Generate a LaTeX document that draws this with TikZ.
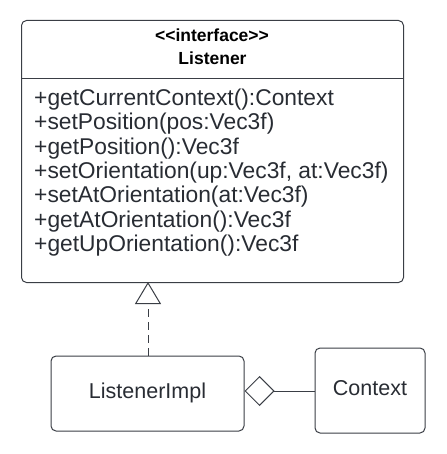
\documentclass[tikz,border=0pt]{standalone}
\usepackage{fontspec}
\setmainfont{Liberation Sans}
\usetikzlibrary{arrows.meta,shapes.geometric}
\definecolor{txt}{HTML}{282C33}
\definecolor{ln}{HTML}{3A3E45}
\begin{document}
\begin{tikzpicture}[x=1pt,y=-1pt,
  box/.style={draw=ln,line width=1pt,rounded corners=5pt},
  member/.style={anchor=base west,inner sep=0pt,text=txt,font=\fontsize{22.8}{24}\selectfont},
  title/.style={anchor=base,inner sep=0pt,text=black,font=\bfseries\fontsize{17.5}{20}\selectfont},
  lbl/.style={anchor=base,inner sep=0pt,text=txt,font=\fontsize{21.5}{24}\selectfont},
  conn/.style={draw=ln,line width=1pt}]
\useasboundingbox (0,0) rectangle (446,454);
\node[box,minimum width=382pt,minimum height=262pt,anchor=north west,inner sep=0pt] (L) at (21,20) {};
\coordinate (dl) at (21,79);
\coordinate (dr) at (403,79);
\draw[conn] (dl) -- (dr);
\node[title] (st) at (212,41.7) {<\kern0pt<interface>\kern0pt>};
\node[title] (ln) at (212.5,65) {Listener};
\node[member] (m1) at (34,105.7) {+getCurrentContext():Context};
\node[member] (m2) at (34,130) {+setPosition(pos:Vec3f)};
\node[member] (m3) at (34,154.3) {+getPosition():Vec3f};
\node[member] (m4) at (34,178.6) {+setOrientation(up:Vec3f, at:Vec3f)};
\node[member] (m5) at (34,202.9) {+setAtOrientation(at:Vec3f)};
\node[member] (m6) at (34,227.2) {+getAtOrientation():Vec3f};
\node[member] (m7) at (34,251.5) {+getUpOrientation():Vec3f};
\node[box,minimum width=193pt,minimum height=75pt] (I) at (147.5,393.5) {};
\node[lbl] (Il) at (147.5,398) {ListenerImpl};
\node[box,minimum width=110pt,minimum height=85pt] (C) at (370,390.5) {};
\node[lbl] (Cl) at (370,395) {Context};
\coordinate (tip) at (148,282);
\draw[conn,dashed,dash pattern=on 8pt off 5pt,-{Triangle[open,width=26pt,length=22pt,line width=1pt]}] (I.north -| tip) -- (tip);
\draw[conn,{Diamond[open,width=30pt,length=30pt,line width=1pt]}-] (I.east |- 0,391) -- (C.west |- 0,391);
\end{tikzpicture}
\end{document}
